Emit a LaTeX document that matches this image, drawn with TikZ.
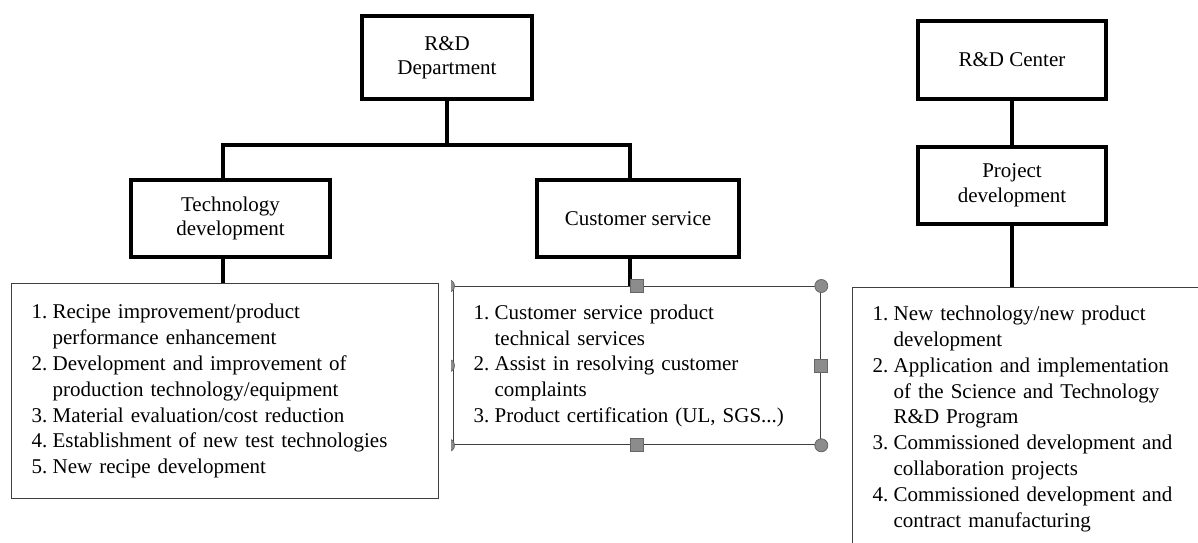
\documentclass[tikz,border=0pt]{standalone}
\usepackage{fontspec}
\setmainfont{Liberation Serif}

\begin{document}
\begin{tikzpicture}[x=1pt, y=-1pt, line width=3.2pt, line join=miter,
    unit/.style={draw, line width=3.2pt, inner sep=0pt, align=center,
        font=\fontsize{21}{24.5}\selectfont},
    tasks/.style={draw=black!75, line width=1.3pt, anchor=north west, align=left,
        inner xsep=20pt, inner ysep=0pt, font=\fontsize{21}{25.8}\selectfont},
    grip/.style={fill=black!45, draw=black!60, line width=0.8pt}]
    \useasboundingbox (0,0) rectangle (1198,542);
    \clip (0,0) rectangle (1198,542);

    % Unita' principali
    \node[unit, minimum width=170, minimum height=83] (dept) at (447,57.5) {R\&D\\Department};
    \node[unit, minimum width=199, minimum height=77] (tech) at (230.5,218.5) {Technology\\development};
    \node[unit, minimum width=202, minimum height=77] (cs) at (638,218.5) {Customer service};
    \node[unit, minimum width=188, minimum height=78] (center) at (1012,60) {R\&D Center};
    \node[unit, minimum width=188, minimum height=77] (proj) at (1012,185.5) {Project\\development};

    % Elenchi dei compiti
    \node[tasks, text width=387, minimum height=215] (techlist) at (11,283) {%
        \begin{tabular}{@{}p{21pt}@{}l@{}}
        1. & Recipe improvement/product\\
           & performance enhancement\\
        2. & Development and improvement of\\
           & production technology/equipment\\
        3. & Material evaluation/cost reduction\\
        4. & Establishment of new test technologies\\
        5. & New recipe development
        \end{tabular}};
    \node[tasks, text width=327, minimum height=158] (cslist) at (453,286) {%
        \begin{tabular}{@{}p{21pt}@{}l@{}}
        1. & Customer service product\\
           & technical services\\
        2. & Assist in resolving customer\\
           & complaints\\
        3. & Product certification (UL, SGS...)
        \end{tabular}};
    \node[tasks, text width=320, minimum height=262] (projlist) at (852,287) {%
        \begin{tabular}{@{}p{21pt}@{}l@{}}
        1. & New technology/new product\\
           & development\\
        2. & Application and implementation\\
           & of the Science and Technology\\
           & R\&D Program\\
        3. & Commissioned development and\\
           & collaboration projects\\
        4. & Commissioned development and\\
           & contract manufacturing
        \end{tabular}};

    % Collegamenti
    \coordinate (busL) at (223,145);
    \coordinate (busR) at (630,145);
    \draw (dept.south) -- (dept.south |- busL);
    \draw (busL |- tech.north) -- (busL) -- (busR) -- (busR |- cs.north);
    \draw (busL |- tech.south) -- (busL |- techlist.north);
    \draw (busR |- cs.south) -- (busR |- cslist.north);
    \draw (center) -- (proj);
    \draw (proj.south) -- (proj.south |- projlist.north);

    % Maniglie di selezione
    \foreach \a in {north, east, south}
        \draw[grip] ([shift={(-6.5,-6.5)}]cslist.\a) rectangle ++(13,13);
    \foreach \a in {north east, south east}
        \draw[grip] (cslist.\a) circle[radius=6.5];
    \begin{scope}
        \clip (451,0) rectangle (470,542);
        \foreach \a in {north west, west, south west}
            \draw[grip] ([xshift=-5]cslist.\a) circle[radius=6.5];
    \end{scope}
\end{tikzpicture}
\end{document}
